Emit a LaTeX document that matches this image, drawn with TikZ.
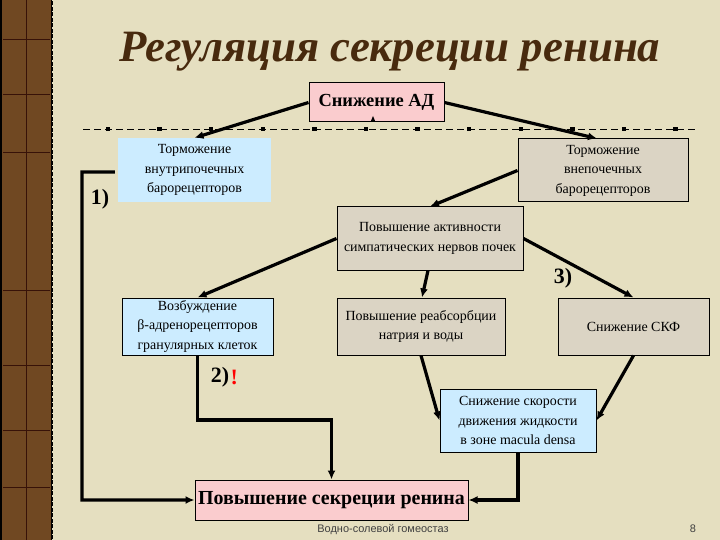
\documentclass[tikz,border=0pt]{standalone}
\usepackage{fontspec}
\setmainfont{Liberation Serif}
\setsansfont{Liberation Sans}
\usetikzlibrary{arrows.meta,positioning}
\definecolor{bgbeige}{RGB}{229,223,192}
\definecolor{boxgray}{RGB}{219,212,196}
\definecolor{boxblue}{RGB}{204,236,255}
\definecolor{boxpink}{RGB}{250,204,206}
\definecolor{titlebrown}{RGB}{72,42,14}
\definecolor{stripbrown}{RGB}{112,72,34}
\definecolor{stripline}{RGB}{55,18,8}

\begin{document}
\begin{tikzpicture}[x=1bp,y=-1bp,
  box/.style={rectangle, inner sep=2pt, align=center,
    font=\fontsize{14}{19.5}\selectfont},
  graybox/.style={box, draw=black, line width=1bp, fill=boxgray},
  bluebox/.style={box, draw=black, line width=1bp, fill=boxblue},
  pinkbox/.style={rectangle, draw=black, line width=1bp, fill=boxpink, inner sep=2pt},
  arr/.style={-{Latex[length=9bp,width=8bp]}, line width=3.2bp, black},
  numlabel/.style={font=\fontsize{22}{22}\selectfont\bfseries}]

\useasboundingbox (0,0) rectangle (720,540);
\fill[bgbeige] (0,0) rectangle (720,540);

% left strip
\fill[stripbrown] (0,0) rectangle (53,540);
\draw[stripline, line width=1bp] (26,0) -- (26,540);
\foreach \yy in {40,95,153,290,365,430,487}
  \draw[stripline, line width=1bp] (3,\yy) -- (50,\yy);
\draw[black, line width=2bp] (1,0) -- (1,540) (52,0) -- (52,540);
\draw[bgbeige, line width=1bp, dash pattern=on 1.5bp off 4bp] (52,0) -- (52,540);

% title
\node[font=\fontsize{45}{48}\selectfont\bfseries\itshape, text=titlebrown]
  at (390,52) (title) {Регуляция секреции ренина};

% dashed rule with markers
\draw[line width=0.8bp, dash pattern=on 7bp off 4bp] (83,129) -- (697,129);
\foreach \i in {0,...,11}
  \fill ({105.8+51.6*\i},126.8) rectangle ++(4.4,4.4);

% boxes
\node[pinkbox, minimum width=135bp, minimum height=39bp,
  font=\fontsize{18.5}{20}\selectfont\bfseries] at (376.5,102.5) (ad) {Снижение АД};
\fill (370.5,122) -- (373,116) -- (375.5,122) -- cycle;

\node[box, fill=boxblue, minimum width=153bp, minimum height=64bp]
  at (194.5,170) (intra) {Торможение\\внутрипочечных\\барорецепторов};
\node[graybox, minimum width=170bp, minimum height=63bp]
  at (603,170.5) (extra) {Торможение\\внепочечных\\барорецепторов};
\node[graybox, minimum width=186bp, minimum height=63bp]
  at (430,238.5) (symp) {Повышение активности\\симпатических нервов почек};

\node[bluebox, minimum width=151bp, minimum height=57bp]
  at (197.5,326.5) (beta) {Возбуждение\\β-адренорецепторов\\гранулярных клеток};
\node[graybox, minimum width=168bp, minimum height=57bp]
  at (421,326.5) (reabs) {Повышение реабсорбции\\натрия и воды};
\node[graybox, minimum width=151bp, minimum height=57bp]
  at (633.5,326.5) (gfr) {Снижение СКФ};

\node[bluebox, minimum width=156bp, minimum height=63bp]
  at (518,420.5) (macula) {Снижение скорости\\движения жидкости\\в зоне macula densa};

\node[pinkbox, minimum width=273bp, minimum height=40bp,
  font=\fontsize{20}{22}\selectfont\bfseries] at (331.5,500) (renin) {Повышение секреции ренина};

% labels
\node[numlabel] at (100,199) (n1) {1)};
\node[numlabel] at (220,377) (n2) {2)};
\node[numlabel, text=red, right=-5.5bp of n2] (excl) {!};
\node[numlabel] at (563,278) (n3) {3)};

% connectors
\coordinate (j1) at (82,172);
\coordinate (j2) at (331.5,420);
\draw[arr] (ad.west) -- (intra.north);
\draw[arr] (ad.east) -- ([xshift=-6bp]extra.north);
\draw[arr] (extra.west) -- (symp.north);
\draw[arr] (symp.west) -- (beta.north);
\draw[arr] ([xshift=-2bp]symp.south) -- ([xshift=1bp]reabs.north);
\draw[arr] (symp.east) -- (gfr.north);
\draw[arr] (reabs.south) -- (macula.west);
\draw[arr] (gfr.south) -- (macula.east);
\draw[arr] (beta.south) |- (j2) -- (renin.north);
\draw[arr] (macula.south) |- (renin.east);
\draw[arr] ([xshift=-3bp,yshift=-2bp]intra.west) -- (j1) |- (renin.west);

% footer
\node[font=\sffamily\fontsize{11}{13}\selectfont, text=black!75]
  at (383,530) (foot) {Водно-солевой гомеостаз};
\node[font=\sffamily\fontsize{11}{13}\selectfont, text=black!75]
  at (693,529) (page) {8};

\end{tikzpicture}
\end{document}
